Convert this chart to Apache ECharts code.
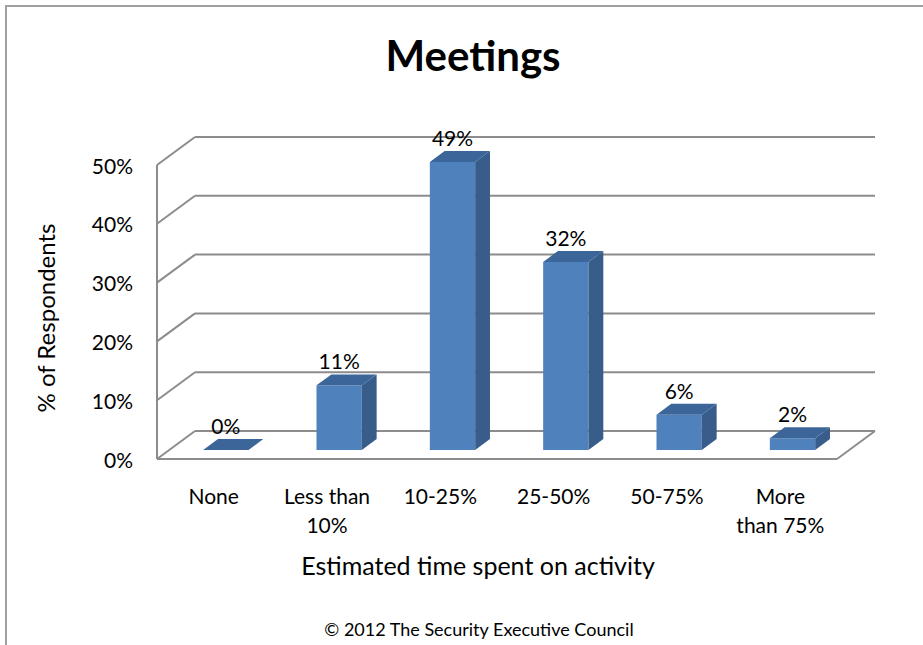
<!DOCTYPE html>
<html>
<head>
<meta charset="utf-8">
<script src="https://cdn.jsdelivr.net/npm/echarts@6/dist/echarts.min.js"></script>
<style>
  html, body { margin: 0; padding: 0; background: #fff; }
  #chart { width: 923px; height: 645px; }
</style>
</head>
<body>
<div id="chart"></div>
<script>
// data
const categories = ["None", "Less than\n10%", "10-25%", "25-50%", "50-75%", "More\nthan 75%"];
const respondents = [0, 11, 49, 32, 6, 2];
const yTicks = [0, 10, 20, 30, 40, 50];

// pseudo 3D depth of the plot box (px), and where the bars sit inside it
const DEPTH = [38, -28];
const BAR_FRONT = 0.32;
const BAR_BACK = 0.71;
const FONT = "Lato, 'Open Sans', sans-serif";

const chart = echarts.init(document.getElementById("chart"), null, { renderer: "svg" });

// walls: back gridlines + left side diagonals + floor
function renderWalls(params, api) {
  const v = api.value(0);
  const bw = api.size([1, 0])[0];
  const left = api.coord([0, v])[0] - bw / 2;
  const right = api.coord([categories.length - 1, v])[0] + bw / 2;
  const y = api.coord([0, v])[1];
  const style = { stroke: "#8c8c8c", lineWidth: 2 };
  const children = [
    // back wall line
    { type: "line", shape: { x1: left + DEPTH[0], y1: y + DEPTH[1], x2: right + DEPTH[0], y2: y + DEPTH[1] }, style: style },
    // side wall diagonal
    { type: "line", shape: { x1: left, y1: y, x2: left + DEPTH[0], y2: y + DEPTH[1] }, style: style },
  ];
  if (v === 0) {
    const yTop = api.coord([0, yTicks[yTicks.length - 1]])[1];
    children.push(
      { type: "line", shape: { x1: left, y1: y, x2: right, y2: y }, style: style },
      { type: "line", shape: { x1: right, y1: y, x2: right + DEPTH[0], y2: y + DEPTH[1] }, style: style },
      { type: "line", shape: { x1: left, y1: y, x2: left, y2: yTop }, style: style }
    );
  }
  return { type: "group", children: children };
}

function renderBar(params, api) {
  const i = api.value(0);
  const v = api.value(1);
  const bw = api.size([1, 0])[0];
  const w = bw * 0.4;
  const c0 = api.coord([i, 0]);
  const c1 = api.coord([i, v]);
  const fx = DEPTH[0] * BAR_FRONT, fy = DEPTH[1] * BAR_FRONT;
  const sx = DEPTH[0] * (BAR_BACK - BAR_FRONT), sy = DEPTH[1] * (BAR_BACK - BAR_FRONT);
  const x0 = c0[0] - w / 2 + fx;
  const x1 = x0 + w;
  const yb = c0[1] + fy;
  const yt = c1[1] + fy;
  const children = [];
  if (yb - yt > 0.5) {
    children.push(
      { type: "rect", shape: { x: x0, y: yt, width: w, height: yb - yt }, style: { fill: "#4f81bd" } },
      { type: "polygon", shape: { points: [[x1, yt], [x1 + sx, yt + sy], [x1 + sx, yb + sy], [x1, yb]] }, style: { fill: "#385d8a" } }
    );
  }
  children.push(
    { type: "polygon", shape: { points: [[x0, yt], [x1, yt], [x1 + sx, yt + sy], [x0 + sx, yt + sy]] }, style: { fill: "#3c6699" } },
    {
      type: "text",
      style: {
        x: x0 + w / 2, y: yt + sy - 3,
        text: v + "%", fill: "#000", font: "21px " + FONT,
        align: "center", verticalAlign: "bottom"
      }
    }
  );
  return { type: "group", children: children };
}

const option = {
  animation: false,
  backgroundColor: "#fff",
  title: [
    {
      text: "Meetings",
      left: 468, top: 29, textAlign: "center",
      textStyle: { fontFamily: FONT, fontWeight: "bold", fontSize: 42, color: "#000" }
    },
    {
      text: "© 2012 The Security Executive Council",
      left: 474, top: 615, textAlign: "center",
      textStyle: { fontFamily: FONT, fontWeight: "normal", fontSize: 18, color: "#000" }
    }
  ],
  graphic: [
    { type: "line", shape: { x1: 5, y1: 6, x2: 923, y2: 6 }, style: { stroke: "#a0a0a0", lineWidth: 2 } },
    { type: "line", shape: { x1: 6, y1: 6, x2: 6, y2: 645 }, style: { stroke: "#a0a0a0", lineWidth: 2 } }
  ],
  grid: { left: 157, right: 86, top: 165, bottom: 186 },
  xAxis: {
    type: "category",
    data: categories,
    axisLine: { show: false },
    axisTick: { show: false },
    axisLabel: { color: "#000", fontFamily: FONT, fontSize: 21, lineHeight: 29, margin: 22, interval: 0 },
    name: "Estimated time spent on activity",
    nameLocation: "middle",
    nameGap: 93,
    nameTextStyle: { color: "#000", fontFamily: FONT, fontSize: 25, padding: [0, 38, 0, 0] }
  },
  yAxis: {
    type: "value",
    min: 0, max: 50, interval: 10,
    axisLine: { show: false },
    axisTick: { show: false },
    splitLine: { show: false },
    axisLabel: { color: "#000", fontFamily: FONT, fontSize: 21, margin: 24, padding: [6, 0, 0, 0], formatter: "{value}%" },
    name: "% of Respondents",
    nameLocation: "middle",
    nameGap: 100,
    nameTextStyle: { color: "#000", fontFamily: FONT, fontSize: 24, padding: [0, 12, 0, 0] }
  },
  series: [
    {
      type: "custom",
      renderItem: renderWalls,
      data: yTicks.map(t => [t]),
      encode: { y: 0 },
      silent: true,
      z: 1
    },
    {
      type: "custom",
      renderItem: renderBar,
      data: respondents.map((v, i) => [i, v]),
      encode: { x: 0, y: 1 },
      z: 2
    }
  ]
};

chart.setOption(option);
</script>
</body>
</html>
